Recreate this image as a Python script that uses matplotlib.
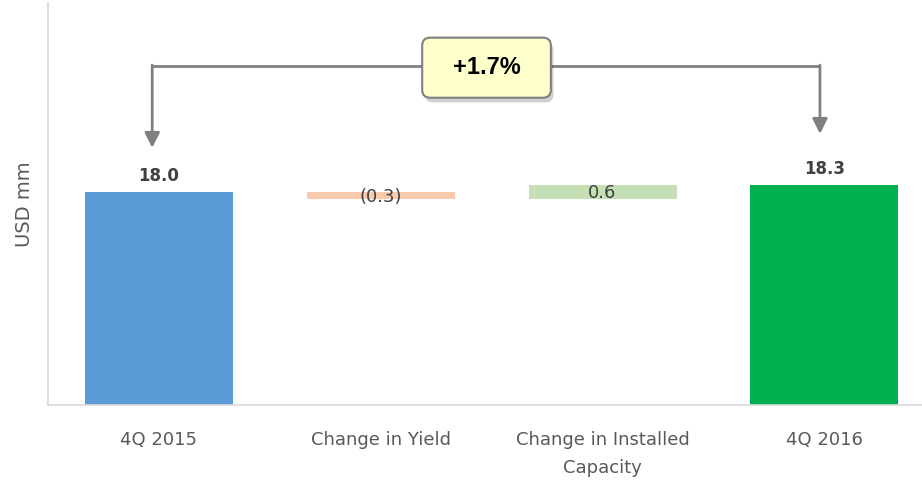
import matplotlib.pyplot as plt
from matplotlib.patches import FancyBboxPatch

plt.rcParams['font.family'] = ['DejaVu Sans']

categories = ["4Q 2015", "Change in Yield", "Change in Installed\nCapacity", "4Q 2016"]
start_value = 18.0
changes = [-0.3, 0.6]
end_value = 18.3
change_labels = ["(0.3)", "0.6"]
growth_label = "+1.7%"

colors = ["#5b9bd5", "#f8cbad", "#c5e0b4", "#00b050"]
text_gray = "#595959"
dark = "#404040"
arrow_gray = "#808080"

fig = plt.figure(figsize=(9.22, 4.82), dpi=100)
ax = fig.add_axes([0.052, 0.16, 0.948, 0.834])

ymin = 9
x = list(range(len(categories)))

# totals
ax.bar(0, start_value - ymin, bottom=ymin, width=0.667, color=colors[0])
ax.bar(3, end_value - ymin, bottom=ymin, width=0.667, color=colors[3])

# floating change bars
running = start_value
for i, ch in enumerate(changes):
    lo = min(running, running + ch)
    ax.bar(i + 1, abs(ch), bottom=lo, width=0.667, color=colors[i + 1])
    ax.text(i + 1, lo + abs(ch) / 2 - 0.05, change_labels[i], ha="center", va="center",
            fontsize=13, color=dark)
    running += ch

ax.text(0, start_value + 0.3, f"{start_value:.1f}", ha="center", va="bottom",
        fontsize=12, fontweight="bold", color=dark)
ax.text(3, end_value + 0.3, f"{end_value:.1f}", ha="center", va="bottom",
        fontsize=12, fontweight="bold", color=dark)

ax.set_xlim(-0.5, 3.44)
ax.set_ylim(ymin, 26)

# connector with arrows
y_line = 23.33
ax.plot([-0.03, 2.98], [y_line, y_line], color=arrow_gray, lw=2, zorder=3,
        solid_capstyle="butt")
ax.annotate("", xy=(-0.03, 19.87), xytext=(-0.03, y_line + 0.04),
            arrowprops=dict(arrowstyle="-|>,head_length=0.9,head_width=0.45",
                            color=arrow_gray, lw=2, shrinkA=0, shrinkB=0), zorder=3)
ax.annotate("", xy=(2.98, 20.46), xytext=(2.98, y_line + 0.04),
            arrowprops=dict(arrowstyle="-|>,head_length=0.9,head_width=0.45",
                            color=arrow_gray, lw=2, shrinkA=0, shrinkB=0), zorder=3)

bx, by, bw, bh = 1.187, 21.99, 0.58, 2.54
aspect = 222 / 23.65
shadow = FancyBboxPatch((bx + 0.012, by - 0.2), bw, bh,
                        boxstyle="round,pad=0,rounding_size=0.036",
                        mutation_aspect=aspect, fc="#000000", ec="none",
                        alpha=0.18, zorder=4)
box = FancyBboxPatch((bx, by), bw, bh, boxstyle="round,pad=0,rounding_size=0.036",
                     mutation_aspect=aspect, fc="#ffffcc", ec=arrow_gray, lw=1.5, zorder=5)
ax.add_patch(shadow)
ax.add_patch(box)
ax.text(bx + bw / 2, by + bh / 2, growth_label, ha="center", va="center",
        fontsize=17, fontweight="bold", color="black", zorder=6,
        family=["Liberation Sans", "DejaVu Sans"])

ax.set_xticks(x)
ax.set_xticklabels(categories, fontsize=13, color=text_gray, linespacing=1.7)
ax.tick_params(axis="x", length=0, pad=19)
ax.set_yticks([])
ax.set_ylabel("USD mm", fontsize=14, color=text_gray, labelpad=10)

for side in ["top", "right"]:
    ax.spines[side].set_visible(False)
for side in ["left", "bottom"]:
    ax.spines[side].set_color("#d9d9d9")
    ax.spines[side].set_linewidth(1.2)

fig.savefig("out.png", dpi=100)
